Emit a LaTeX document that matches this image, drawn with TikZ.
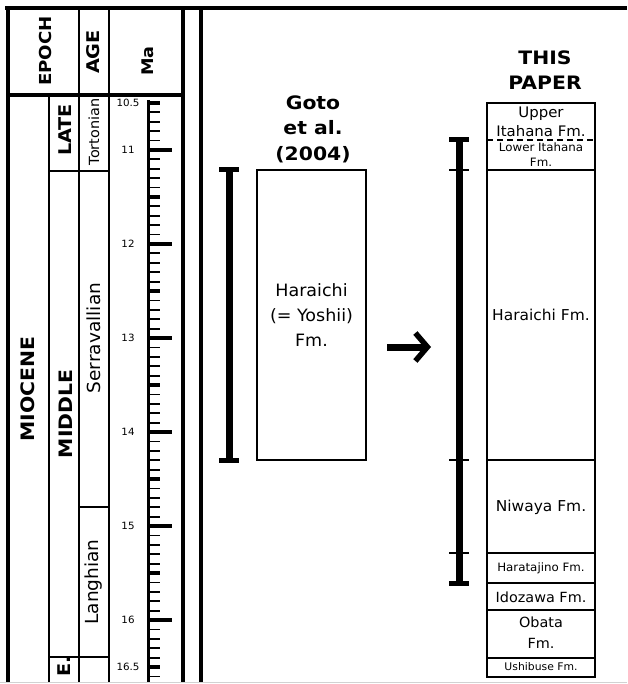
\documentclass[tikz,border=0pt]{standalone}
\usepackage{fontspec}
\setmainfont{DejaVu Sans}[FakeStretch=1.03, BoldFeatures={FakeStretch=1.1}]
\usetikzlibrary{calc, positioning}
\usetikzlibrary{arrows.meta}

\tikzset{
  heavy/.style={line width=3.5pt},
  rule/.style={line width=1.8pt},
  head label/.style={font=\fontsize{17.5}{20}\selectfont\bfseries, inner sep=0pt, rotate=90},
  title label/.style={font=\fontsize{18.5}{25.5}\selectfont\bfseries, inner sep=0pt, align=center},
  age label/.style={font=\fontsize{18}{20}\selectfont, inner sep=0pt, rotate=90},
  fm label/.style={font=\fontsize{14.5}{20}\selectfont, inner sep=0pt, align=center},
  scale label/.style={font=\fontsize{10}{12}\selectfont, inner sep=0pt},
  range bar/.style={line width=7pt},
  bar cap/.style={line width=5pt},
  bar tick/.style={line width=1.8pt},
}

\begin{document}
\begin{tikzpicture}[x=1pt, y=-1pt]
\useasboundingbox (0,0) rectangle (627,684);
\def\Ytop{8}
\def\Yhead{95}
\def\Ybot{682}
\def\Xa{8}
\def\Xb{49}
\def\Xc{79}
\def\Xd{109}
\def\Xe{183}
\def\Xf{201}

% frame of the time table
\draw[heavy] (5,\Ytop) -- (627,\Ytop);
\draw[heavy] (\Xa,\Ytop) -- (\Xa,\Ybot);
\draw[heavy] (\Xa,\Yhead) -- (\Xe,\Yhead);
\draw[rule] (\Xb,\Yhead) -- (\Xb,\Ybot);
\draw[rule] (\Xc,\Ytop) -- (\Xc,\Ybot);
\draw[rule] (\Xd,\Ytop) -- (\Xd,\Ybot);
\draw[heavy] (\Xe,\Ytop) -- (\Xe,\Ybot);
\draw[heavy] (\Xf,\Ytop) -- (\Xf,\Ybot);
\draw[rule] (\Xb,171) -- (\Xd,171);
\draw[rule] (\Xc,507) -- (\Xd,507);
\draw[rule] (\Xb,657) -- (\Xd,657);
\draw[gray!35, line width=1pt] (0,682) -- (627,682);

% headers
\node[head label, font=\fontsize{16.5}{18}\selectfont\bfseries] (epoch) at (45,51) {EPOCH};
\node[head label] (age) at (93,52) {AGE};
\node[head label, font=\fontsize{16}{18}\selectfont\bfseries] (ma) at (148,61) {Ma};

\node[head label, font=\fontsize{18.5}{20}\selectfont\bfseries] (miocene) at (28,389) {MIOCENE};
\node[head label] (late) at (65,130) {LATE};
\node[head label, font=\fontsize{18.5}{20}\selectfont\bfseries] (middle) at (66,414) {MIDDLE};
\node[head label] (early) at (64,666) {E.};

\node[age label, font=\fontsize{14}{16}\selectfont] (tortonian) at (94,132) {Tortonian};
\node[age label] (serravallian) at (94,338) {Serravallian};
\node[age label] (langhian) at (94,582) {Langhian};

% Ma scale
\draw[line width=3pt] (148.5,100) -- (148.5,\Ybot);
\foreach \i in {0,...,61}
  \draw[bar tick] (148,{103+\i*9.4}) -- (160,{103+\i*9.4});
\foreach \i in {0,10,...,60}
  \draw[line width=3.5pt] (148,{103+\i*9.4}) -- (160,{103+\i*9.4});
\foreach \m in {11,...,16}
  \draw[line width=4pt] (148,{150+(\m-11)*94}) -- (172,{150+(\m-11)*94});
\foreach \m [count=\k] in {10.5,11,12,13,14,15,16,16.5}
  \node[scale label] (tick-\k) at (128,{150+(\m-11)*94}) {\m};

% Goto et al. (2004)
\node[title label] (goto) at (313,129) {Goto\\et al.\\(2004)};
\node[draw, rule, minimum width=109pt, minimum height=290pt, inner sep=0pt,
      font=\fontsize{17}{25}\selectfont, align=center] (gotoBox) at (311.5,315)
      {Haraichi\\(= Yoshii)\\Fm.};
\coordinate (gb-top) at (229,170);
\coordinate (gb-bot) at (229,460);
\draw[range bar] (gb-top) -- (gb-bot);
\draw[bar cap] ($(gb-top)+(-10,0)$) -- ($(gb-top)+(10,0)$);
\draw[bar cap] ($(gb-bot)+(-10,0)$) -- ($(gb-bot)+(10,0)$);

% arrow
\coordinate (arr-s) at (387,347);
\coordinate (arr-e) at (431,347);
\draw[line width=7pt, -{Straight Barb[length=12pt, width=28pt, line width=5.5pt]}] (arr-s) -- (arr-e);

% This paper
\node[title label] (paper) at (545,70) {THIS\\PAPER};
\def\Xl{487}
\def\Xr{595}
\draw[rule] (\Xl,103) rectangle (\Xr,677);
\draw[rule, dashed, dash pattern=on 6pt off 4pt] (\Xl,140) -- (\Xr,140);
\foreach \y in {170,460,553,583,610,658}
  \draw[rule] (\Xl,\y) -- (\Xr,\y);

\node[fm label, font=\fontsize{14.5}{19}\selectfont] (upItahana) at (541,122) {Upper\\Itahana Fm.};
\node[fm label, font=\fontsize{11.5}{15}\selectfont] (lowItahana) at (541,155) {Lower Itahana\\Fm.};
\node[fm label, font=\fontsize{15}{18}\selectfont] (haraichi) at (541,315) {Haraichi Fm.};
\node[fm label, font=\fontsize{15}{18}\selectfont] (niwaya) at (541,507) {Niwaya Fm.};
\node[fm label, font=\fontsize{11.5}{14}\selectfont] (haratajino) at (541,568) {Haratajino Fm.};
\node[fm label, font=\fontsize{14}{17}\selectfont] (idozawa) at (541,597) {Idozawa Fm.};
\node[fm label, font=\fontsize{14}{21}\selectfont] (obata) at (541,633) {Obata\\Fm.};
\node[fm label, font=\fontsize{10.5}{12}\selectfont] (ushibuse) at (541,667) {Ushibuse Fm.};

\coordinate (pb-top) at (459,140);
\coordinate (pb-bot) at (459,583);
\draw[range bar] (pb-top) -- (pb-bot);
\draw[bar cap] ($(pb-top)+(-10,0)$) -- ($(pb-top)+(10,0)$);
\draw[bar cap] ($(pb-bot)+(-10,0)$) -- ($(pb-bot)+(10,0)$);
\foreach \y in {170,460,553}
  \draw[bar tick] (449,\y) -- (469,\y);
\end{tikzpicture}
\end{document}
